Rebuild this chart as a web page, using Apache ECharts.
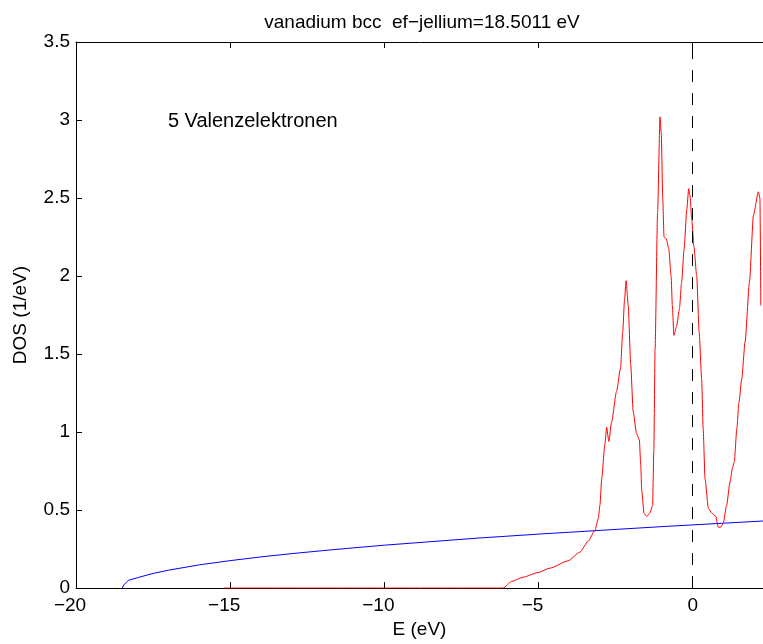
<!DOCTYPE html>
<html>
<head>
<meta charset="utf-8">
<script src="https://cdn.jsdelivr.net/npm/echarts@6.0.0/dist/echarts.min.js"></script>
<style>
  html, body { margin: 0; padding: 0; background: #ffffff; }
  #root { width: 763px; height: 644px; }
</style>
</head>
<body>
<div id="root"></div>
<script>
// red curve: DOS of vanadium
var redEnergy = [-15.2, -6.15, -5.87, -5.5, -5.01, -4.63, -4.04, -3.66, -3.39, -3.17, -3.06, -3.01, -2.95, -2.85,
  -2.79, -2.72, -2.63, -2.47, -2.34, -2.27, -2.21, -2.16, -2.09, -2.01, -1.93, -1.82, -1.73, -1.69, -1.65,
  -1.58, -1.49, -1.39, -1.3, -1.26, -1.22, -1.14, -1.06, -1.02, -0.97, -0.93, -0.86, -0.78, -0.7, -0.66,
  -0.61, -0.52, -0.43, -0.36, -0.28, -0.19, -0.13, -0.09, -0.03, 0.04, 0.13, 0.21, 0.29, 0.34, 0.4, 0.51,
  0.62, 0.75, 0.83, 0.91, 0.99, 1.1, 1.21, 1.29, 1.35, 1.43, 1.5, 1.59, 1.7, 1.84, 1.97, 2.13, 2.18, 2.21];
var redDos = [0, 0, 0.043, 0.07, 0.1, 0.128, 0.175, 0.23, 0.3, 0.37, 0.447, 0.53, 0.7, 0.92,
  1.03, 0.94, 1.065, 1.26, 1.41, 1.64, 1.85, 1.97, 1.81, 1.43, 1.13, 0.99, 0.95, 0.81, 0.62,
  0.48, 0.46, 0.48, 0.53, 0.89, 1.53, 2.4, 3.02, 2.92, 2.49, 2.25, 2.24, 2.18, 2.0, 1.81,
  1.62, 1.68, 1.79, 1.96, 2.17, 2.43, 2.56, 2.52, 2.36, 2.19, 2.0, 1.64, 1.34, 1.02, 0.7, 0.51,
  0.48, 0.46, 0.39, 0.39, 0.415, 0.53, 0.68, 0.77, 0.81, 1.02, 1.19, 1.34, 1.58, 1.96, 2.39, 2.54, 2.5, 1.81];

// blue curve: jellium DOS
var blueEnergy = [-18.5, -18.45, -18.3, -18.0, -17.5, -17.0, -16.0, -15.0, -14.0, -13.0, -12.0, -11.0, -10.0,
  -9.0, -8.0, -7.0, -6.0, -5.0, -4.0, -3.0, -2.0, -1.0, 0.0, 1.0, 2.28];
var blueDos = [0, 0.02, 0.05, 0.067, 0.094, 0.115, 0.149, 0.176, 0.2, 0.221, 0.24, 0.258, 0.275,
  0.29, 0.305, 0.32, 0.333, 0.346, 0.358, 0.37, 0.382, 0.394, 0.405, 0.416, 0.43];

var xTicks = [-20, -15, -10, -5, 0];
var titleText = "vanadium bcc  ef\u2212jellium=18.5011 eV";
var noteText = "5 Valenzelektronen";

var font = "'Liberation Sans', Arial, sans-serif";
var fs = 19;

function pairs(xs, ys) {
  return xs.map(function (x, i) { return [x, ys[i]]; });
}

var chart = echarts.init(document.getElementById("root"));

var xBase = {
  type: "value",
  min: -20,
  max: 2.28,
  interval: 5,
  splitLine: { show: false },
  axisLine: { onZero: false, lineStyle: { color: "#000", width: 1 } },
  axisTick: { inside: true, length: 6, lineStyle: { color: "#000" } }
};

var option = {
  backgroundColor: "#ffffff",
  animation: false,
  textStyle: { fontFamily: font },
  title: {
    text: titleText,
    left: 417,
    top: 8,
    textAlign: "center",
    textStyle: { fontFamily: font, fontSize: fs, fontWeight: "normal", color: "#000" }
  },
  grid: { left: 76, right: 0, top: 42, bottom: 54 },
  xAxis: [
    Object.assign({}, xBase, {
      position: "bottom",
      name: "E (eV)",
      nameLocation: "middle",
      nameGap: 31,
      nameTextStyle: { fontFamily: font, fontSize: fs, color: "#000" },
      axisLabel: {
        margin: 8,
        color: "#000",
        fontFamily: font,
        fontSize: fs,
        showMaxLabel: false,
        formatter: function (v) {
          if (xTicks.indexOf(v) < 0) return "";
          if (v < 0) return "{n|\u2212" + Math.abs(v) + "}";
          return String(v);
        },
        rich: { n: { fontFamily: font, fontSize: fs, color: "#000", padding: [0, 12, 0, 0] } }
      }
    }),
    Object.assign({}, xBase, {
      position: "top",
      axisLabel: { show: false }
    })
  ],
  yAxis: {
    type: "value",
    min: 0,
    max: 3.5,
    interval: 0.5,
    position: "left",
    name: "DOS (1/eV)",
    nameLocation: "middle",
    nameGap: 46,
    nameTextStyle: { fontFamily: font, fontSize: fs, color: "#000" },
    splitLine: { show: false },
    axisLine: { show: true, onZero: false, lineStyle: { color: "#000", width: 1 } },
    axisTick: { show: true, inside: true, length: 6, lineStyle: { color: "#000" } },
    axisLabel: { margin: 6, color: "#000", fontFamily: font, fontSize: fs }
  },
  series: [
    {
      type: "line",
      data: pairs(blueEnergy, blueDos),
      showSymbol: false,
      smooth: false,
      lineStyle: { color: "#0000ff", width: 1 },
      markPoint: {
        symbolSize: 0,
        label: {
          show: true,
          position: [0, 0],
          align: "left",
          verticalAlign: "middle",
          color: "#000",
          fontFamily: font,
          fontSize: 20,
          formatter: noteText
        },
        data: [{ coord: [-17.02, 2.99] }]
      }
    },
    {
      type: "line",
      data: pairs(redEnergy, redDos),
      showSymbol: false,
      smooth: 0.2,
      smoothMonotone: "x",
      lineStyle: { color: "#ff0000", width: 1 },
      markLine: {
        silent: true,
        symbol: "none",
        label: { show: false },
        lineStyle: { color: "#000", width: 1, type: [12, 11] },
        data: [{ xAxis: 0 }]
      }
    }
  ]
};

chart.setOption(option);
</script>
</body>
</html>
